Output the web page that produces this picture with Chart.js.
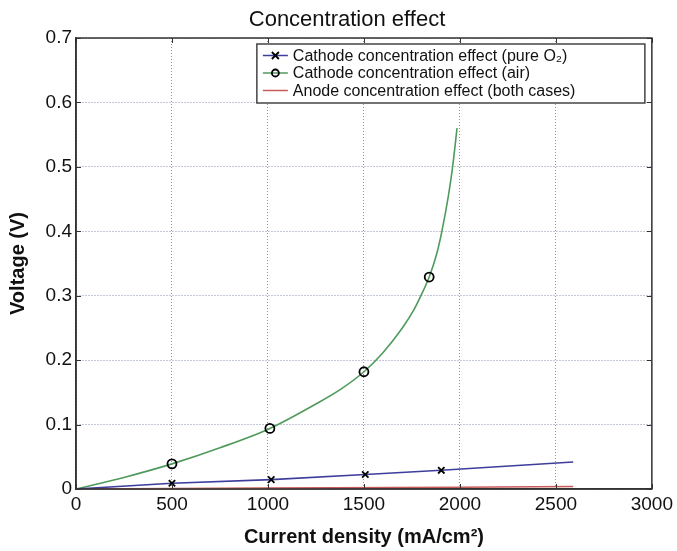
<!DOCTYPE html>
<html>
<head>
<meta charset="utf-8">
<title>Concentration effect</title>
<script src="https://cdn.jsdelivr.net/npm/chart.js@4.4.1/dist/chart.umd.min.js"></script>
<style>
    body { margin: 0; background: #fff; }
    #wrap { width: 677px; height: 551px; }
</style>
</head>
<body>
<div id="wrap"><canvas id="concChart" width="677" height="551"></canvas></div>
<script>
// values: current density (mA/cm2) vs voltage (V)
const xTicks = [0, 500, 1000, 1500, 2000, 2500, 3000];
const yTicks = [0, 0.1, 0.2, 0.3, 0.4, 0.5, 0.6, 0.7];

// cathode, pure O2 (markers on every inner point)
const o2Current = [0, 500, 1017, 1507, 1903, 2590];
const o2Voltage = [0, 0.009, 0.0145, 0.0225, 0.029, 0.042];

// cathode, air
const airCurrent = [0, 250, 500, 750, 1010, 1250, 1380, 1500, 1600, 1700, 1760, 1800, 1840, 1880, 1906, 1940, 1962, 1985];
const airVoltage = [0, 0.018, 0.039, 0.064, 0.094, 0.132, 0.155, 0.182, 0.212, 0.250, 0.278, 0.302, 0.329, 0.366, 0.40, 0.455, 0.50, 0.56];
const airMarkers = [500, 1010, 1500, 1840];

// anode, both cases
const anodeCurrent = [0, 1000, 2000, 2590];
const anodeVoltage = [0, 0.0013, 0.0027, 0.0039];

const seriesLabels = [
    'Cathode concentration effect (pure O\u2082)',
    'Cathode concentration effect (air)',
    'Anode concentration effect (both cases)'
];

const FONT = "'Liberation Sans', Arial, sans-serif";

function toPoints(xs, ys) {
    return xs.map((x, i) => ({ x: x, y: ys[i] }));
}

// frame, inward ticks, title and the boxed legend (matlab look)
const matlabFrame = {
    id: 'matlabFrame',
    afterDatasetsDraw(chart) {
        const ctx = chart.ctx;
        const a = chart.chartArea;
        const xs = chart.scales.x, ys = chart.scales.y;
        ctx.save();
        ctx.setLineDash([]);
        ctx.strokeStyle = '#333';
        ctx.lineWidth = 1.5;
        ctx.strokeRect(a.left, a.top, a.right - a.left, a.bottom - a.top);

        ctx.lineWidth = 1;
        xTicks.forEach(v => {
            const px = Math.round(xs.getPixelForValue(v)) + 0.5;
            ctx.beginPath();
            ctx.moveTo(px, a.bottom); ctx.lineTo(px, a.bottom - 5);
            ctx.moveTo(px, a.top); ctx.lineTo(px, a.top + 5);
            ctx.stroke();
        });
        yTicks.forEach(v => {
            const py = Math.round(ys.getPixelForValue(v)) + 0.5;
            ctx.beginPath();
            ctx.moveTo(a.left, py); ctx.lineTo(a.left + 5, py);
            ctx.moveTo(a.right, py); ctx.lineTo(a.right - 5, py);
            ctx.stroke();
        });

        // title
        ctx.fillStyle = '#111';
        ctx.font = '22px ' + FONT;
        ctx.textAlign = 'center';
        ctx.textBaseline = 'alphabetic';
        ctx.fillText('Concentration effect', 347, 26);

        // legend
        const box = { left: a.right - 395, top: a.top + 6, right: a.right - 7, bottom: a.top + 65 };
        ctx.fillStyle = '#fff';
        ctx.fillRect(box.left, box.top, box.right - box.left, box.bottom - box.top);
        ctx.strokeStyle = '#444';
        ctx.lineWidth = 1.5;
        ctx.strokeRect(box.left, box.top, box.right - box.left, box.bottom - box.top);

        chart.data.datasets.forEach((ds, i) => {
            const y = box.top + 11.5 + i * 17.5;
            const x0 = box.left + 6, x1 = box.left + 31, xm = (x0 + x1) / 2;
            ctx.strokeStyle = ds.borderColor;
            ctx.lineWidth = 1.5;
            ctx.beginPath();
            ctx.moveTo(x0, y); ctx.lineTo(x1, y);
            ctx.stroke();
            ctx.strokeStyle = '#000';
            ctx.lineWidth = 1.8;
            if (ds.pointStyle === 'crossRot') {
                ctx.beginPath();
                ctx.moveTo(xm - 3.5, y - 3.5); ctx.lineTo(xm + 3.5, y + 3.5);
                ctx.moveTo(xm - 3.5, y + 3.5); ctx.lineTo(xm + 3.5, y - 3.5);
                ctx.stroke();
            } else if (ds.pointStyle === 'circle') {
                ctx.beginPath();
                ctx.arc(xm, y, 3.5, 0, Math.PI * 2);
                ctx.stroke();
            }
            ctx.fillStyle = '#111';
            ctx.font = '16px ' + FONT;
            ctx.textAlign = 'left';
            ctx.textBaseline = 'middle';
            ctx.fillText(ds.label, box.left + 36, y + 1);
        });
        ctx.restore();
    }
};

const ctx = document.getElementById('concChart').getContext('2d');

new Chart(ctx, {
    type: 'line',
    data: {
        datasets: [
            {
                label: seriesLabels[0],
                data: toPoints(o2Current, o2Voltage),
                borderColor: '#3d3d9c',
                borderWidth: 1.6,
                pointStyle: 'crossRot',
                pointRadius: o2Current.map((x, i) => (i === 0 || i === o2Current.length - 1) ? 0 : 4.5),
                pointBorderColor: '#000',
                pointBorderWidth: 1.8,
                tension: 0
            },
            {
                label: seriesLabels[1],
                data: toPoints(airCurrent, airVoltage),
                borderColor: '#4f9a5c',
                borderWidth: 1.6,
                pointStyle: 'circle',
                pointRadius: airCurrent.map(x => airMarkers.includes(x) ? 4.5 : 0),
                pointBorderColor: '#000',
                pointBackgroundColor: 'rgba(0,0,0,0)',
                pointBorderWidth: 1.8,
                cubicInterpolationMode: 'monotone'
            },
            {
                label: seriesLabels[2],
                data: toPoints(anodeCurrent, anodeVoltage),
                borderColor: '#c85a5a',
                borderWidth: 1.6,
                pointRadius: 0,
                tension: 0
            }
        ]
    },
    options: {
        responsive: false,
        animation: false,
        layout: { padding: { top: 38, right: 23, left: 0, bottom: 0 } },
        plugins: {
            legend: { display: false },
            tooltip: { enabled: false },
            title: { display: false }
        },
        scales: {
            x: {
                type: 'linear',
                min: 0,
                max: 3000,
                afterBuildTicks: axis => { axis.ticks = xTicks.map(v => ({ value: v })); },
                afterFit: axis => { axis.height = 62; },
                grid: { color: '#8592aa', lineWidth: 1, drawTicks: false },
                border: { display: true, color: '#333', width: 1.5, dash: [1, 2] },
                ticks: {
                    color: '#111',
                    padding: 4,
                    maxRotation: 0,
                    font: { family: FONT, size: 19 },
                    callback: v => String(v)
                },
                title: {
                    display: true,
                    text: 'Current density (mA/cm\u00b2)',
                    color: '#111',
                    font: { family: FONT, size: 20, weight: 'bold' },
                    padding: { top: 0, bottom: 2 }
                }
            },
            y: {
                min: 0,
                max: 0.7,
                afterBuildTicks: axis => { axis.ticks = yTicks.map(v => ({ value: v })); },
                afterFit: axis => { axis.width = 76; },
                grid: { color: '#8592aa', lineWidth: 1, drawTicks: false },
                border: { display: true, color: '#333', width: 1.5, dash: [1, 2] },
                ticks: {
                    color: '#111',
                    padding: 4,
                    font: { family: FONT, size: 19 },
                    callback: v => String(Number(v.toFixed(1)))
                },
                title: {
                    display: true,
                    text: 'Voltage (V)',
                    color: '#111',
                    font: { family: FONT, size: 20, weight: 'bold' },
                    padding: { top: 6, bottom: 0 }
                }
            }
        }
    },
    plugins: [matlabFrame]
});
</script>
</body>
</html>
